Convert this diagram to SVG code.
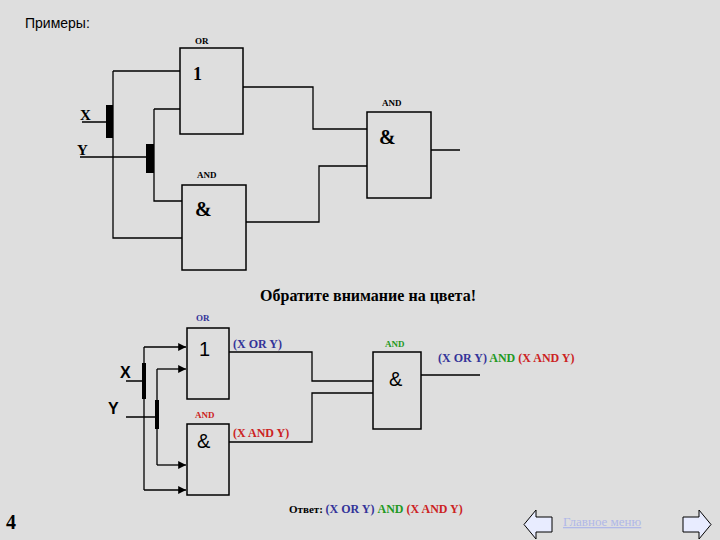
<svg xmlns="http://www.w3.org/2000/svg" width="720" height="540" viewBox="0 0 720 540">
<defs>
<style>
.box{fill:none;stroke:#000;stroke-width:1.5}
.w{fill:none;stroke:#000;stroke-width:1.3}
.s{font-family:"Liberation Serif",serif;font-weight:bold}
.a{font-family:"Liberation Sans",sans-serif}
.b{fill:#333399}.r{fill:#cc2222}.g{fill:#229922}
</style>
<marker id="ar" viewBox="0 0 8 8" refX="8" refY="4" markerWidth="6" markerHeight="6" orient="auto"><path d="M0,0L8,4L0,8z" fill="#000"/></marker>
</defs>
<rect width="720" height="540" fill="#dedede"/>
<text x="25" y="28" class="a" font-size="14">Примеры:</text>
<g id="top-or"><rect class="box" x="180" y="48" width="63" height="86"/><text x="195" y="44" class="s" font-size="9">OR</text><text x="193" y="80" class="s" font-size="18">1</text></g>
<g id="top-and1"><rect class="box" x="182" y="185" width="64" height="85"/><text x="197" y="178" class="s" font-size="9">AND</text><text x="195" y="216" class="s" font-size="20">&amp;</text></g>
<g id="top-and2"><rect class="box" x="367" y="112" width="64" height="86"/><text x="382" y="106" class="s" font-size="9">AND</text><text x="379" y="144" class="s" font-size="20">&amp;</text></g>
<g id="top-inputs"><text x="80" y="120" class="s" font-size="15">X</text><text x="77" y="155" class="s" font-size="15">Y</text><rect x="106" y="105" width="7" height="33"/><rect x="146" y="144" width="8" height="29"/></g>
<g id="top-wires">
<path class="w" d="M82,122H106M80,157H146M113,71H180M113,71V238H182M154,109H180M154,109V201H182M243,87H313V129H367M246,222H319V166H367M431,150H460"/>
</g>
<text x="368" y="301" class="s" font-size="16" text-anchor="middle">Обратите внимание на цвета!</text>
<g id="bot-or"><rect class="box" x="187" y="328" width="42" height="71"/><text x="196" y="321" class="s b" font-size="9">OR</text><text x="199" y="356" class="a" font-size="20">1</text></g>
<g id="bot-and1"><rect class="box" x="187" y="424" width="42" height="71"/><text x="195" y="418" class="s r" font-size="9">AND</text><text x="197" y="448" class="a" font-size="20">&amp;</text></g>
<g id="bot-and2"><rect class="box" x="373" y="352" width="48" height="77"/><text x="385" y="347" class="s g" font-size="9">AND</text><text x="389" y="386" class="a" font-size="20">&amp;</text></g>
<g id="bot-inputs"><text x="120" y="378" class="a" font-size="16" font-weight="bold">X</text><text x="108" y="414" class="a" font-size="16" font-weight="bold">Y</text><rect x="142" y="363" width="4" height="36"/><rect x="155" y="400" width="4" height="29"/></g>
<g id="bot-wires">
<path class="w" d="M126,381H142M126,417H155M229,352H312V381H373M229,442H312V393H373M421,375H480"/>
<path class="w" stroke-width="2" d="M144,347V490" /><path class="w" stroke-width="2" d="M157,369V465"/>
<path class="w" stroke-width="2" marker-end="url(#ar)" d="M144,347H186"/><path class="w" stroke-width="2" marker-end="url(#ar)" d="M144,490H186"/>
<path class="w" stroke-width="2" marker-end="url(#ar)" d="M157,369H186"/><path class="w" stroke-width="2" marker-end="url(#ar)" d="M157,465H186"/>
</g>
<text x="233" y="348" class="s b" font-size="12">(X OR Y)</text>
<text x="233" y="437" class="s r" font-size="12">(X AND Y)</text>
<text x="438" y="362" class="s" font-size="12"><tspan class="b">(X OR Y) </tspan><tspan class="g">AND </tspan><tspan class="r">(X AND Y)</tspan></text>
<text x="6" y="529" class="s" font-size="20">4</text>
<text x="289" y="513" class="s" font-size="11">Ответ: <tspan class="b" font-size="12">  (X OR Y) </tspan><tspan class="g" font-size="12">AND </tspan><tspan class="r" font-size="12">(X AND Y)</tspan></text>
<g id="nav-left"><path d="M552,517V532H536V539L524,524.5L536,510V517Z" fill="#e8ecff" stroke="#000"/></g>
<g id="nav-right"><path d="M683,517V532H699V539L711,524.5L699,510V517Z" fill="#e8ecff" stroke="#000"/></g>
<text x="563" y="526" font-family="Liberation Serif,serif" font-size="13" fill="#b0b8e8" text-decoration="underline">Главное меню</text>
</svg>
